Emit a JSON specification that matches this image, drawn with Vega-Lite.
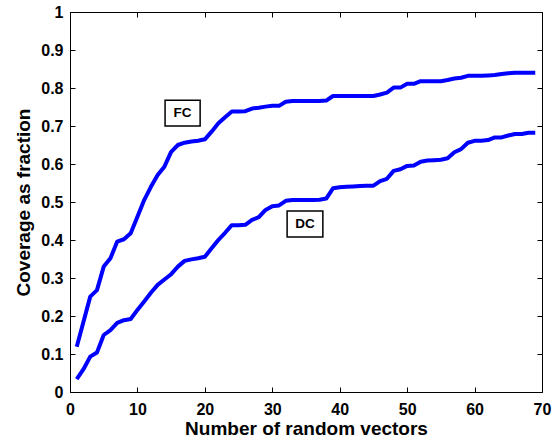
{
  "$schema": "https://vega.github.io/schema/vega-lite/v6.json",
  "width": 472,
  "height": 380,
  "autosize": "none",
  "padding": {"left": 70, "top": 12, "right": 14, "bottom": 48},
  "background": "white",
  "config": {
    "view": {"stroke": "black", "strokeWidth": 1},
    "font": "Liberation Sans",
    "axis": {
      "grid": false,
      "domain": false,
      "tickColor": "black",
      "tickSize": -5,
      "labelFont": "Liberation Sans",
      "labelFontWeight": "bold",
      "labelFontSize": 16,
      "labelColor": "black",
      "titleFont": "Liberation Sans",
      "titleFontWeight": "bold",
      "titleFontSize": 19,
      "titleColor": "black"
    }
  },
  "resolve": {"axis": {"x": "independent", "y": "independent"}},
  "layer": [
    {
      "data": {
        "values": [
          {"x": 1, "series": "FC", "value": 0.119},
          {"x": 2, "series": "FC", "value": 0.185},
          {"x": 3, "series": "FC", "value": 0.251},
          {"x": 4, "series": "FC", "value": 0.268},
          {"x": 5, "series": "FC", "value": 0.33},
          {"x": 6, "series": "FC", "value": 0.352},
          {"x": 7, "series": "FC", "value": 0.396},
          {"x": 8, "series": "FC", "value": 0.402},
          {"x": 9, "series": "FC", "value": 0.418},
          {"x": 10, "series": "FC", "value": 0.461},
          {"x": 11, "series": "FC", "value": 0.505},
          {"x": 12, "series": "FC", "value": 0.54},
          {"x": 13, "series": "FC", "value": 0.571},
          {"x": 14, "series": "FC", "value": 0.593},
          {"x": 15, "series": "FC", "value": 0.632},
          {"x": 16, "series": "FC", "value": 0.65},
          {"x": 17, "series": "FC", "value": 0.656},
          {"x": 18, "series": "FC", "value": 0.659},
          {"x": 19, "series": "FC", "value": 0.661},
          {"x": 20, "series": "FC", "value": 0.665},
          {"x": 21, "series": "FC", "value": 0.685},
          {"x": 22, "series": "FC", "value": 0.707},
          {"x": 23, "series": "FC", "value": 0.723},
          {"x": 24, "series": "FC", "value": 0.738},
          {"x": 25, "series": "FC", "value": 0.738},
          {"x": 26, "series": "FC", "value": 0.739},
          {"x": 27, "series": "FC", "value": 0.746},
          {"x": 28, "series": "FC", "value": 0.748},
          {"x": 29, "series": "FC", "value": 0.751},
          {"x": 30, "series": "FC", "value": 0.753},
          {"x": 31, "series": "FC", "value": 0.753},
          {"x": 32, "series": "FC", "value": 0.764},
          {"x": 33, "series": "FC", "value": 0.766},
          {"x": 34, "series": "FC", "value": 0.766},
          {"x": 35, "series": "FC", "value": 0.766},
          {"x": 36, "series": "FC", "value": 0.766},
          {"x": 37, "series": "FC", "value": 0.766},
          {"x": 38, "series": "FC", "value": 0.767},
          {"x": 39, "series": "FC", "value": 0.779},
          {"x": 40, "series": "FC", "value": 0.779},
          {"x": 41, "series": "FC", "value": 0.779},
          {"x": 42, "series": "FC", "value": 0.779},
          {"x": 43, "series": "FC", "value": 0.779},
          {"x": 44, "series": "FC", "value": 0.779},
          {"x": 45, "series": "FC", "value": 0.779},
          {"x": 46, "series": "FC", "value": 0.783},
          {"x": 47, "series": "FC", "value": 0.788},
          {"x": 48, "series": "FC", "value": 0.801},
          {"x": 49, "series": "FC", "value": 0.801},
          {"x": 50, "series": "FC", "value": 0.811},
          {"x": 51, "series": "FC", "value": 0.811},
          {"x": 52, "series": "FC", "value": 0.818},
          {"x": 53, "series": "FC", "value": 0.818},
          {"x": 54, "series": "FC", "value": 0.818},
          {"x": 55, "series": "FC", "value": 0.818},
          {"x": 56, "series": "FC", "value": 0.821},
          {"x": 57, "series": "FC", "value": 0.825},
          {"x": 58, "series": "FC", "value": 0.827},
          {"x": 59, "series": "FC", "value": 0.832},
          {"x": 60, "series": "FC", "value": 0.832},
          {"x": 61, "series": "FC", "value": 0.832},
          {"x": 62, "series": "FC", "value": 0.833},
          {"x": 63, "series": "FC", "value": 0.834},
          {"x": 64, "series": "FC", "value": 0.837},
          {"x": 65, "series": "FC", "value": 0.839},
          {"x": 66, "series": "FC", "value": 0.84},
          {"x": 67, "series": "FC", "value": 0.84},
          {"x": 68, "series": "FC", "value": 0.84},
          {"x": 69, "series": "FC", "value": 0.84},
          {"x": 1, "series": "DC", "value": 0.034},
          {"x": 2, "series": "DC", "value": 0.06},
          {"x": 3, "series": "DC", "value": 0.093},
          {"x": 4, "series": "DC", "value": 0.104},
          {"x": 5, "series": "DC", "value": 0.15},
          {"x": 6, "series": "DC", "value": 0.163},
          {"x": 7, "series": "DC", "value": 0.182},
          {"x": 8, "series": "DC", "value": 0.189},
          {"x": 9, "series": "DC", "value": 0.192},
          {"x": 10, "series": "DC", "value": 0.216},
          {"x": 11, "series": "DC", "value": 0.238},
          {"x": 12, "series": "DC", "value": 0.261},
          {"x": 13, "series": "DC", "value": 0.282},
          {"x": 14, "series": "DC", "value": 0.296},
          {"x": 15, "series": "DC", "value": 0.31},
          {"x": 16, "series": "DC", "value": 0.33},
          {"x": 17, "series": "DC", "value": 0.345},
          {"x": 18, "series": "DC", "value": 0.349},
          {"x": 19, "series": "DC", "value": 0.352},
          {"x": 20, "series": "DC", "value": 0.356},
          {"x": 21, "series": "DC", "value": 0.378},
          {"x": 22, "series": "DC", "value": 0.4},
          {"x": 23, "series": "DC", "value": 0.419},
          {"x": 24, "series": "DC", "value": 0.439},
          {"x": 25, "series": "DC", "value": 0.439},
          {"x": 26, "series": "DC", "value": 0.44},
          {"x": 27, "series": "DC", "value": 0.453},
          {"x": 28, "series": "DC", "value": 0.46},
          {"x": 29, "series": "DC", "value": 0.479},
          {"x": 30, "series": "DC", "value": 0.489},
          {"x": 31, "series": "DC", "value": 0.491},
          {"x": 32, "series": "DC", "value": 0.503},
          {"x": 33, "series": "DC", "value": 0.505},
          {"x": 34, "series": "DC", "value": 0.505},
          {"x": 35, "series": "DC", "value": 0.505},
          {"x": 36, "series": "DC", "value": 0.505},
          {"x": 37, "series": "DC", "value": 0.506},
          {"x": 38, "series": "DC", "value": 0.509},
          {"x": 39, "series": "DC", "value": 0.536},
          {"x": 40, "series": "DC", "value": 0.539},
          {"x": 41, "series": "DC", "value": 0.54},
          {"x": 42, "series": "DC", "value": 0.541},
          {"x": 43, "series": "DC", "value": 0.542},
          {"x": 44, "series": "DC", "value": 0.543},
          {"x": 45, "series": "DC", "value": 0.543},
          {"x": 46, "series": "DC", "value": 0.555},
          {"x": 47, "series": "DC", "value": 0.561},
          {"x": 48, "series": "DC", "value": 0.582},
          {"x": 49, "series": "DC", "value": 0.586},
          {"x": 50, "series": "DC", "value": 0.595},
          {"x": 51, "series": "DC", "value": 0.596},
          {"x": 52, "series": "DC", "value": 0.606},
          {"x": 53, "series": "DC", "value": 0.609},
          {"x": 54, "series": "DC", "value": 0.61},
          {"x": 55, "series": "DC", "value": 0.611},
          {"x": 56, "series": "DC", "value": 0.615},
          {"x": 57, "series": "DC", "value": 0.631},
          {"x": 58, "series": "DC", "value": 0.639},
          {"x": 59, "series": "DC", "value": 0.656},
          {"x": 60, "series": "DC", "value": 0.661},
          {"x": 61, "series": "DC", "value": 0.661},
          {"x": 62, "series": "DC", "value": 0.663},
          {"x": 63, "series": "DC", "value": 0.67},
          {"x": 64, "series": "DC", "value": 0.67},
          {"x": 65, "series": "DC", "value": 0.675},
          {"x": 66, "series": "DC", "value": 0.679},
          {"x": 67, "series": "DC", "value": 0.679},
          {"x": 68, "series": "DC", "value": 0.682},
          {"x": 69, "series": "DC", "value": 0.682}
        ]
      },
      "mark": {"type": "line", "strokeWidth": 4, "strokeJoin": "round", "strokeCap": "butt", "clip": true},
      "encoding": {
        "x": {
          "field": "x", "type": "quantitative",
          "scale": {"domain": [0, 70], "nice": false, "zero": false},
          "axis": {"orient": "bottom", "title": "Number of random vectors", "values": [0, 10, 20, 30, 40, 50, 60, 70], "labelPadding": 14, "titlePadding": 2, "labelFlush": false}
        },
        "y": {
          "field": "value", "type": "quantitative",
          "scale": {"domain": [0, 1], "nice": false},
          "axis": {"orient": "left", "title": "Coverage as fraction", "values": [0, 0.1, 0.2, 0.3, 0.4, 0.5, 0.6, 0.7, 0.8, 0.9, 1], "format": "~g", "labelPadding": 12, "titlePadding": 7, "labelFlush": false}
        },
        "detail": {"field": "series", "type": "nominal"},
        "color": {"value": "#0000ff"}
      }
    },
    {
      "data": {
        "values": [
          {"label": "FC", "x0": 14.1, "x1": 19.3, "y0": 0.7, "y1": 0.768},
          {"label": "DC", "x0": 32.2, "x1": 37.5, "y0": 0.408, "y1": 0.476}
        ]
      },
      "mark": {"type": "rect", "fill": "white", "stroke": "black", "strokeWidth": 1.5},
      "encoding": {
        "x": {"field": "x0", "type": "quantitative", "axis": {"orient": "top", "title": null, "labels": false, "values": [0, 10, 20, 30, 40, 50, 60, 70]}},
        "x2": {"field": "x1"},
        "y": {"field": "y0", "type": "quantitative", "axis": {"orient": "right", "title": null, "labels": false, "values": [0, 0.1, 0.2, 0.3, 0.4, 0.5, 0.6, 0.7, 0.8, 0.9, 1]}},
        "y2": {"field": "y1"}
      }
    },
    {
      "data": {
        "values": [
          {"label": "FC", "x": 16.7, "y": 0.734},
          {"label": "DC", "x": 34.85, "y": 0.442}
        ]
      },
      "mark": {"type": "text", "font": "Liberation Sans", "fontWeight": "bold", "fontSize": 13.5, "color": "black", "align": "center", "baseline": "middle"},
      "encoding": {
        "x": {"field": "x", "type": "quantitative", "axis": null},
        "y": {"field": "y", "type": "quantitative", "axis": null},
        "text": {"field": "label"}
      }
    }
  ]
}
